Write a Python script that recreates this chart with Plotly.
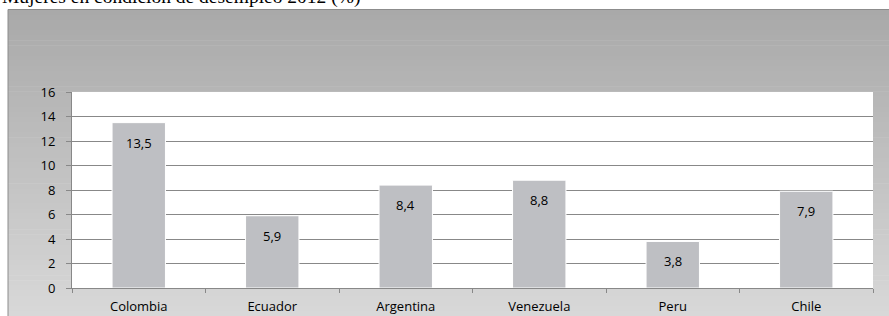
import plotly.graph_objects as go

categories = ["Colombia", "Ecuador", "Argentina", "Venezuela", "Peru", "Chile"]
values = [13.5, 5.9, 8.4, 8.8, 3.8, 7.9]
labels = ["13,5", "5,9", "8,4", "8,8", "3,8", "7,9"]
title_text = "Mujeres en condición de desempleo 2012 (%)"

W, H = 889, 316
ML, MR, MT, MB = 72, 16, 92, 28
pw = W - ML - MR
ph = H - MT - MB

def px_x(p):
    return (p - ML) / pw

def px_y(p):
    return (H - MB - p) / ph

fig = go.Figure()
fig.add_trace(go.Bar(
    x=categories, y=values,
    marker=dict(color="#bebfc3", line=dict(color="#ffffff", width=1)),
    hoverinfo="skip",
))

shapes = []
# gradient background box
top_px, bot_px = 9.5, 316.0
n = 60
c0 = (0xa9, 0xa9, 0xa9)
c1 = (0xd8, 0xd8, 0xd8)
for i in range(n):
    t = i / (n - 1)
    c = tuple(round(c0[k] + (c1[k] - c0[k]) * t) for k in range(3))
    y0p = top_px + (bot_px - top_px) * i / n
    y1p = top_px + (bot_px - top_px) * (i + 1) / n + 0.6
    shapes.append(dict(type="rect", xref="paper", yref="paper",
                       x0=px_x(8), x1=px_x(W + 2), y0=px_y(y1p), y1=px_y(y0p),
                       fillcolor="rgb(%d,%d,%d)" % c, line=dict(width=0), layer="below"))
# border
shapes.append(dict(type="line", xref="paper", yref="paper", x0=px_x(8), x1=px_x(W + 2),
                   y0=px_y(top_px), y1=px_y(top_px), line=dict(color="#8c8c8c", width=1), layer="below"))
shapes.append(dict(type="line", xref="paper", yref="paper", x0=px_x(8), x1=px_x(8),
                   y0=px_y(top_px), y1=px_y(H + 2), line=dict(color="#8c8c8c", width=1), layer="below"))
# white plot area
shapes.append(dict(type="rect", xref="paper", yref="paper", x0=0, x1=1, y0=0, y1=1,
                   fillcolor="#ffffff", line=dict(width=0), layer="below"))

annotations = [dict(
    text=title_text, xref="paper", yref="paper",
    x=px_x(0), y=px_y(10), xanchor="left", yanchor="bottom",
    showarrow=False, font=dict(family="Liberation Serif", size=19.5, color="#000000"),
)]
for c, v, lab in zip(categories, values, labels):
    annotations.append(dict(
        x=c, y=v, xref="x", yref="y", text=lab, showarrow=False,
        yanchor="middle", xanchor="center", yshift=-20,
        font=dict(family="Open Sans", size=13, color="#000000"),
    ))

fig.update_layout(
    width=W, height=H,
    margin=dict(l=ML, r=MR, t=MT, b=MB, autoexpand=False),
    paper_bgcolor="#ffffff",
    plot_bgcolor="rgba(0,0,0,0)",
    showlegend=False,
    bargap=0.6,
    shapes=shapes,
    font=dict(family="Open Sans", size=13, color="#000000"),
    annotations=annotations,
)
fig.update_xaxes(
    type="category", range=[-0.5, 5.5], automargin=False,
    showline=True, linecolor="#888888", linewidth=1,
    ticks="outside", tickson="boundaries", ticklen=4, tickcolor="#888888",
    ticklabelstandoff=6,
    showgrid=False, tickfont=dict(family="Open Sans", size=13, color="#000000"),
)
fig.update_yaxes(
    range=[0, 16], dtick=2, tick0=0, automargin=False,
    showline=True, linecolor="#888888", linewidth=1,
    ticks="outside", ticklen=5, tickcolor="#888888",
    ticklabelstandoff=8,
    showgrid=True, gridcolor="#888888", gridwidth=1, zeroline=False,
    tickfont=dict(family="Open Sans", size=13, color="#000000"),
)

fig.write_html("out.html", config={"displayModeBar": False},
               post_script="document.body.style.margin='0';document.body.style.overflow='hidden';")
